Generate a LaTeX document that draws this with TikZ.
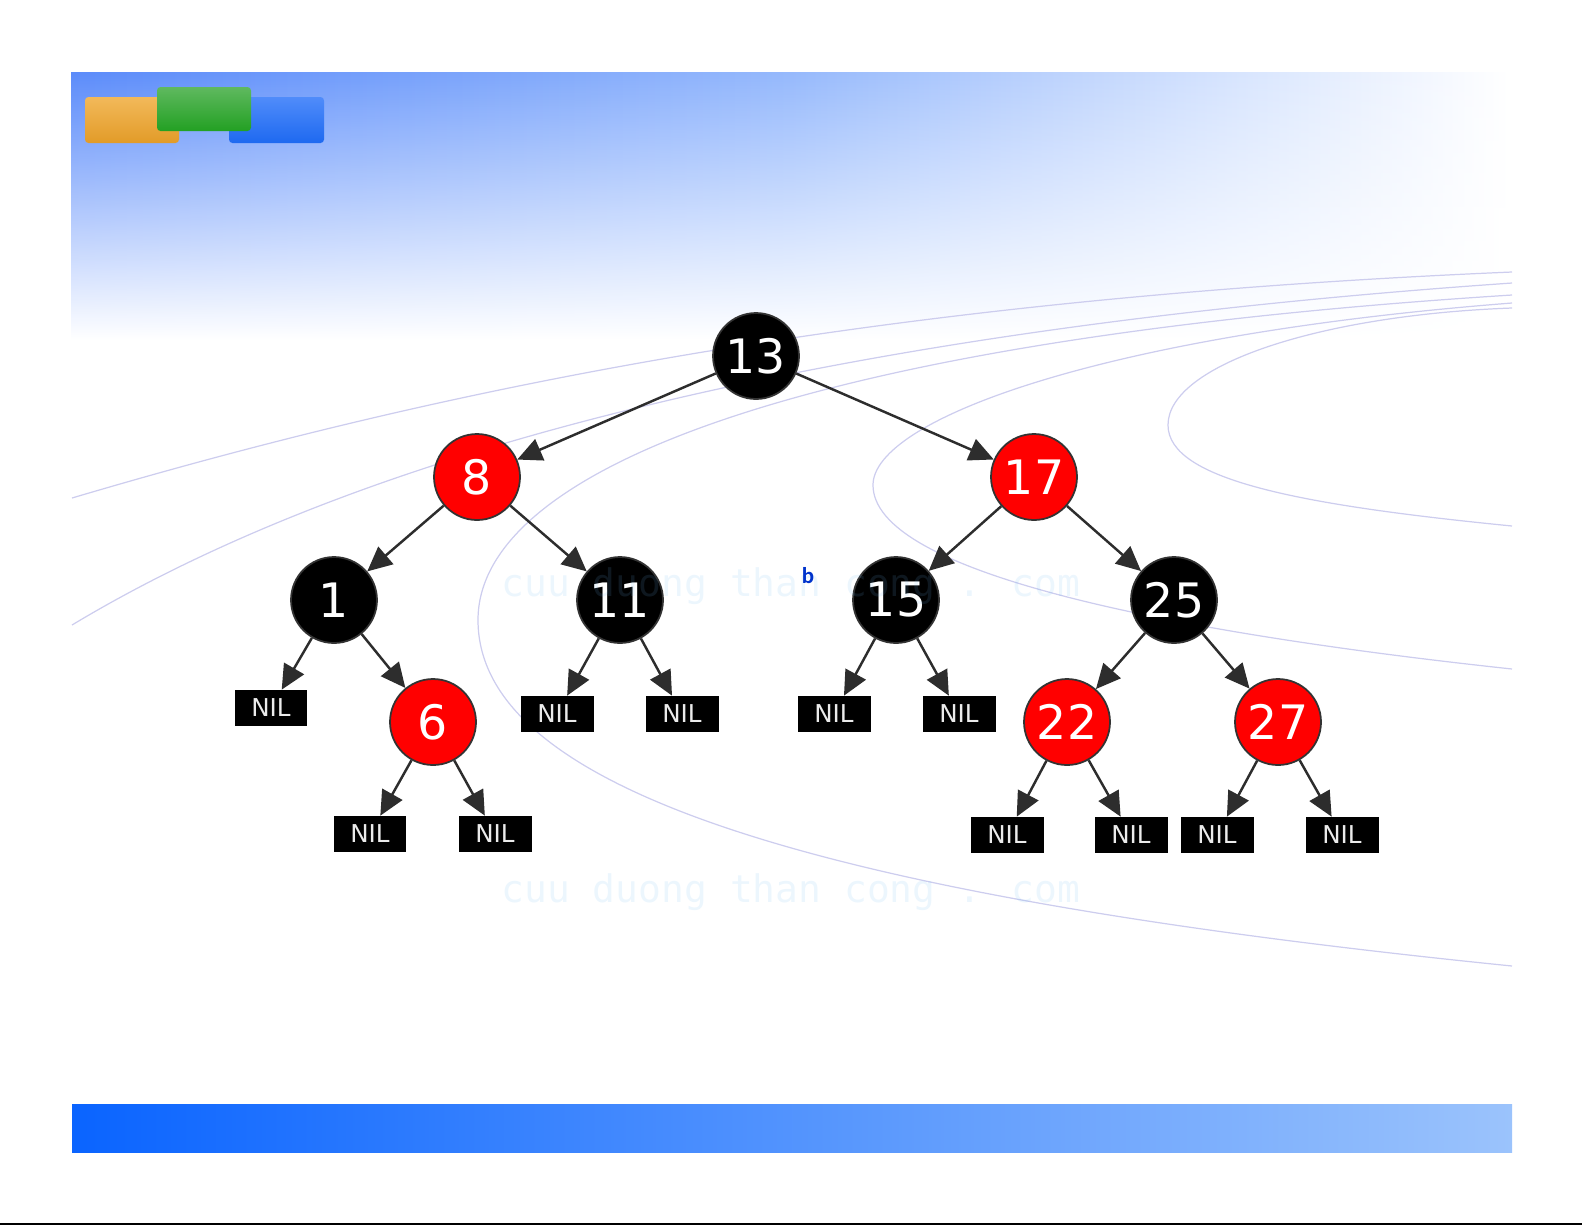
\documentclass[tikz,border=0pt]{standalone}
\usepackage{fontspec}
\setmainfont{DejaVu Sans}
\newfontfamily\wmfont{DejaVu Sans Mono}
\newfontfamily\markfont{Carlito}
\usetikzlibrary{arrows.meta,fadings}

\definecolor{bandblue}{RGB}{92,140,250}
\definecolor{bandmid}{RGB}{150,185,252}
\definecolor{barleft}{RGB}{10,100,255}
\definecolor{barright}{RGB}{155,195,252}
\definecolor{swooshc}{RGB}{205,205,238}
\definecolor{nodered}{RGB}{255,0,0}
\definecolor{edgegray}{RGB}{45,45,45}
\definecolor{wmblue}{RGB}{110,185,240}
\definecolor{markblue}{RGB}{0,51,204}

\begin{document}
\begin{tikzpicture}[x=0.02cm, y=-0.02cm,
    rbnode/.style={circle, draw=black!80, line width=1pt, minimum size=1.72cm, inner sep=0pt,
                   font=\fontsize{27}{30}\selectfont, text=white},
    blacknode/.style={rbnode, fill=black},
    rednode/.style={rbnode, fill=nodered},
    nilbox/.style={fill=black, minimum width=1.46cm, minimum height=0.72cm, inner sep=0pt,
                   font=\fontsize{14}{16}\selectfont, text=white!92!black},
    arr/.style={-{Triangle[length=14pt,width=13pt]}, line width=1.4pt, edgegray},
    swoosh/.style={line width=0.7pt, swooshc},
    tab/.style={rounded corners=2pt, draw=none}
]
\useasboundingbox (0,0) rectangle (1585,1225);

% slide background
\shade[left color=bandblue, right color=white, middle color=bandmid, path fading=south] (72,73) rectangle (1512,340);
\shade[left color=barleft, right color=barright] (72,1104) rectangle (1512,1152);
\draw[line width=1.2pt] (0,1224) -- (1582,1224);

% the three tabs
\shade[tab, top color={rgb,255:red,242;green,185;blue,90}, bottom color={rgb,255:red,226;green,155;blue,40}] (85,97) rectangle (179,143);
\shade[tab, top color={rgb,255:red,80;green,140;blue,250}, bottom color={rgb,255:red,30;green,105;blue,240}] (229,97) rectangle (324,143);
\shade[tab, top color={rgb,255:red,95;green,185;blue,95}, bottom color={rgb,255:red,35;green,160;blue,35}] (157,87) rectangle (251,131);

% swooshes
\draw[swoosh] (72,498) .. controls (420,395) and (850,300) .. (1512,272);
\draw[swoosh] (72,625) .. controls (330,470) and (760,335) .. (1512,283);
\draw[swoosh] (1512,295) .. controls (800,340) and (478,470) .. (478,620)
                         .. controls (478,800) and (860,900) .. (1512,966);
\draw[swoosh] (1512,303) .. controls (1100,335) and (873,420) .. (873,485)
                         .. controls (873,570) and (1150,630) .. (1512,669);
\draw[swoosh] (1512,308) .. controls (1320,315) and (1168,365) .. (1168,425)
                         .. controls (1168,480) and (1300,505) .. (1512,526);

% tree
\node[blacknode] (n13) at (756,356) {13};
\node[rednode]   (n8)  at (477,477) {8};
\node[rednode]   (n17) at (1034,477) {17};
\node[blacknode] (n1)  at (334,600) {1};
\node[blacknode] (n11) at (620,600) {11};
\node[blacknode] (n15) at (896,600) {15};
\node[blacknode] (n25) at (1174,600) {25};
\node[rednode]   (n6)  at (433,722) {6};
\node[rednode]   (n22) at (1067,722) {22};
\node[rednode]   (n27) at (1278,722) {27};

\node[nilbox] (nil1)   at (271,708) {NIL};
\node[nilbox] (nil11l) at (557,714) {NIL};
\node[nilbox] (nil11r) at (682,714) {NIL};
\node[nilbox] (nil15l) at (834,714) {NIL};
\node[nilbox] (nil15r) at (959,714) {NIL};
\node[nilbox] (nil6l)  at (370,834) {NIL};
\node[nilbox] (nil6r)  at (495,834) {NIL};
\node[nilbox] (nil22l) at (1007,835) {NIL};
\node[nilbox] (nil22r) at (1131,835) {NIL};
\node[nilbox] (nil27l) at (1217,835) {NIL};
\node[nilbox] (nil27r) at (1342,835) {NIL};

\draw[arr] (n13) -- (n8);
\draw[arr] (n13) -- (n17);
\draw[arr] (n8) -- (n1);
\draw[arr] (n8) -- (n11);
\draw[arr] (n17) -- (n15);
\draw[arr] (n17) -- (n25);
\draw[arr] (n1) -- (nil1);
\draw[arr] (n1) -- (n6);
\draw[arr] (n11) -- (nil11l);
\draw[arr] (n11) -- (nil11r);
\draw[arr] (n15) -- (nil15l);
\draw[arr] (n15) -- (nil15r);
\draw[arr] (n25) -- (n22);
\draw[arr] (n25) -- (n27);
\draw[arr] (n6) -- (nil6l);
\draw[arr] (n6) -- (nil6r);
\draw[arr] (n22) -- (nil22l);
\draw[arr] (n22) -- (nil22r);
\draw[arr] (n27) -- (nil27l);
\draw[arr] (n27) -- (nil27r);

% watermark
\node[text=wmblue, opacity=0.13, font=\wmfont\fontsize{21.6}{24}\selectfont] (wm1) at (791,586) {cuu duong than cong . com};
\node[text=wmblue, opacity=0.13, font=\wmfont\fontsize{21.6}{24}\selectfont] (wm2) at (791,892) {cuu duong than cong . com};
\node[text=markblue, font=\markfont\bfseries\fontsize{13}{14}\selectfont] (mark) at (808,576) {b};
\end{tikzpicture}
\end{document}
